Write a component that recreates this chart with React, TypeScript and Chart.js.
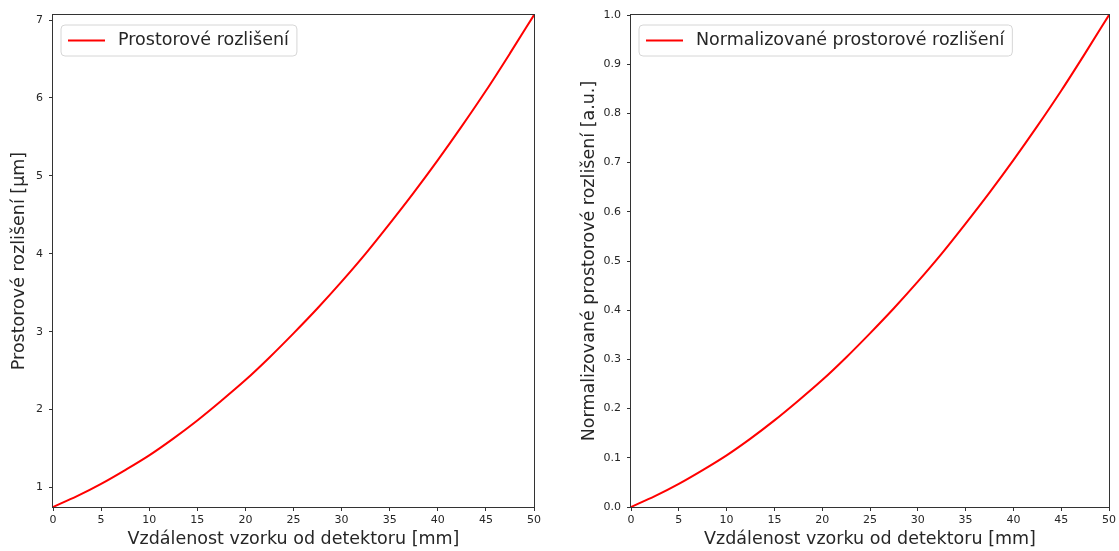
import { useEffect, useRef } from "react";
import { Chart, registerables } from "chart.js";

Chart.register(...registerables);

// Sample-to-detector distance [mm]
const distanceMm = [
  0, 2.5, 5, 7.5, 10, 12.5, 15, 17.5, 20, 22.5, 25,
  27.5, 30, 32.5, 35, 37.5, 40, 42.5, 45, 47.5, 50,
];

// Spatial resolution [µm]
const resolutionUm = [
  0.75, 0.889, 1.047, 1.224, 1.413, 1.628, 1.861, 2.114, 2.379, 2.67, 2.979,
  3.301, 3.642, 4.002, 4.387, 4.785, 5.202, 5.638, 6.092, 6.572, 7.065,
];

// Normalized spatial resolution [a.u.]
const normalizedResolution = [
  0, 0.022, 0.047, 0.075, 0.105, 0.139, 0.176, 0.216, 0.258, 0.304, 0.353,
  0.404, 0.458, 0.515, 0.576, 0.639, 0.705, 0.774, 0.846, 0.922, 1.0,
];

const xTicks = [0, 5, 10, 15, 20, 25, 30, 35, 40, 45, 50];
const resolutionTicks = [1, 2, 3, 4, 5, 6, 7];
const normalizedTicks = [0, 0.1, 0.2, 0.3, 0.4, 0.5, 0.6, 0.7, 0.8, 0.9, 1.0];

const FONT = "'DejaVu Sans', 'Liberation Sans', sans-serif";
const INK = "#262626";
const SPINE = "#333333";
const LABEL_SIZE = 17.5;
const TICK_SIZE = 11;

// Draws the four-sided axes frame around the plot area
const framePlugin = {
  id: "frame",
  afterDatasetsDraw(chart: any) {
    const { left, top, right, bottom } = chart.chartArea;
    const ctx = chart.ctx;
    ctx.save();
    ctx.strokeStyle = SPINE;
    ctx.lineWidth = 1;
    ctx.strokeRect(Math.round(left) - 0.5, Math.round(top) - 0.5, Math.round(right - left) + 1, Math.round(bottom - top) + 1);
    ctx.restore();
  },
};

// Legend box drawn in the upper-left corner of the plot area
const innerLegendPlugin = {
  id: "innerLegend",
  afterDraw(chart: any) {
    const ds = chart.data.datasets[0];
    const ctx = chart.ctx;
    const { left, top } = chart.chartArea;
    ctx.save();
    ctx.font = `${LABEL_SIZE}px ${FONT}`;
    const textW = ctx.measureText(ds.label).width;
    const x = left + 8;
    const y = top + 10;
    const h = 31;
    const w = 57 + textW + 8;
    const r = 4;
    ctx.beginPath();
    ctx.moveTo(x + r, y);
    ctx.lineTo(x + w - r, y);
    ctx.arcTo(x + w, y, x + w, y + r, r);
    ctx.lineTo(x + w, y + h - r);
    ctx.arcTo(x + w, y + h, x + w - r, y + h, r);
    ctx.lineTo(x + r, y + h);
    ctx.arcTo(x, y + h, x, y + h - r, r);
    ctx.lineTo(x, y + r);
    ctx.arcTo(x, y, x + r, y, r);
    ctx.closePath();
    ctx.fillStyle = "rgba(255,255,255,0.8)";
    ctx.fill();
    ctx.strokeStyle = "#d6d6d6";
    ctx.lineWidth = 1;
    ctx.stroke();

    const cy = y + h / 2;
    ctx.beginPath();
    ctx.moveTo(x + 7, cy);
    ctx.lineTo(x + 44, cy);
    ctx.strokeStyle = ds.borderColor;
    ctx.lineWidth = 2;
    ctx.stroke();

    ctx.fillStyle = INK;
    ctx.textBaseline = "middle";
    ctx.textAlign = "left";
    ctx.fillText(ds.label, x + 57, cy);
    ctx.restore();
  },
};

type PanelProps = {
  left: number;
  width: number;
  yAxisWidth: number;
  padRight: number;
  yTitlePad: number;
  label: string;
  yTitle: string;
  values: number[];
  yMin: number;
  yMax: number;
  yTicks: number[];
  decimals: number;
};

function Panel(p: PanelProps) {
  const ref = useRef<HTMLCanvasElement | null>(null);

  useEffect(() => {
    if (!ref.current) return;
    const chart = new Chart(ref.current, {
      type: "line",
      data: {
        datasets: [
          {
            label: p.label,
            data: distanceMm.map((d, i) => ({ x: d, y: p.values[i] })),
            borderColor: "#ff0000",
            borderWidth: 2,
            pointRadius: 0,
            cubicInterpolationMode: "monotone",
            fill: false,
          },
        ],
      },
      options: {
        animation: false,
        responsive: false,
        devicePixelRatio: 1,
        layout: { padding: { top: 15, right: p.padRight, bottom: 0, left: 0 } },
        plugins: { legend: { display: false }, tooltip: { enabled: false } },
        scales: {
          x: {
            type: "linear",
            min: 0,
            max: 50,
            afterBuildTicks: (s: any) => {
              s.ticks = xTicks.map((v) => ({ value: v }));
            },
            afterFit: (s: any) => {
              s.height = 44;
            },
            border: { display: false },
            grid: { display: true, drawOnChartArea: false, drawTicks: true, tickLength: 4, color: SPINE },
            ticks: {
              color: INK,
              font: { family: FONT, size: TICK_SIZE },
              padding: 3,
              maxRotation: 0,
              autoSkip: false,
              callback: (v: any) => String(v),
            },
            title: {
              display: true,
              text: "Vzdálenost vzorku od detektoru [mm]",
              color: INK,
              font: { family: FONT, size: LABEL_SIZE },
              padding: { top: 0, bottom: 1 },
            },
          },
          y: {
            type: "linear",
            min: p.yMin,
            max: p.yMax,
            afterBuildTicks: (s: any) => {
              s.ticks = p.yTicks.map((v) => ({ value: v }));
            },
            afterFit: (s: any) => {
              s.width = p.yAxisWidth;
            },
            border: { display: false },
            grid: { display: true, drawOnChartArea: false, drawTicks: true, tickLength: 4, color: SPINE },
            ticks: {
              color: INK,
              font: { family: FONT, size: TICK_SIZE },
              padding: 6,
              autoSkip: false,
              callback: (v: any) => Number(v).toFixed(p.decimals),
            },
            title: {
              display: true,
              text: p.yTitle,
              color: INK,
              font: { family: FONT, size: LABEL_SIZE },
              padding: { top: p.yTitlePad, bottom: 0 },
            },
          },
        },
      },
      plugins: [framePlugin, innerLegendPlugin],
    } as any);
    return () => chart.destroy();
  }, []);

  return (
    <canvas
      ref={ref}
      width={p.width}
      height={551}
      style={{ position: "absolute", left: p.left, top: 0, width: p.width, height: 551 }}
    />
  );
}

export default function App() {
  return (
    <div
      style={{
        position: "fixed",
        left: 0,
        top: 0,
        width: 1119,
        height: 551,
        background: "#ffffff",
        overflow: "hidden",
      }}
    >
      <Panel
        left={0}
        width={560}
        yAxisWidth={53}
        padRight={26}
        yTitlePad={9}
        label="Prostorové rozlišení"
        yTitle="Prostorové rozlišení [µm]"
        values={resolutionUm}
        yMin={0.75}
        yMax={7.065}
        yTicks={resolutionTicks}
        decimals={0}
      />
      <Panel
        left={560}
        width={559}
        yAxisWidth={71}
        padRight={8}
        yTitlePad={19}
        label="Normalizované prostorové rozlišení"
        yTitle="Normalizované prostorové rozlišení [a.u.]"
        values={normalizedResolution}
        yMin={0}
        yMax={1}
        yTicks={normalizedTicks}
        decimals={1}
      />
    </div>
  );
}
